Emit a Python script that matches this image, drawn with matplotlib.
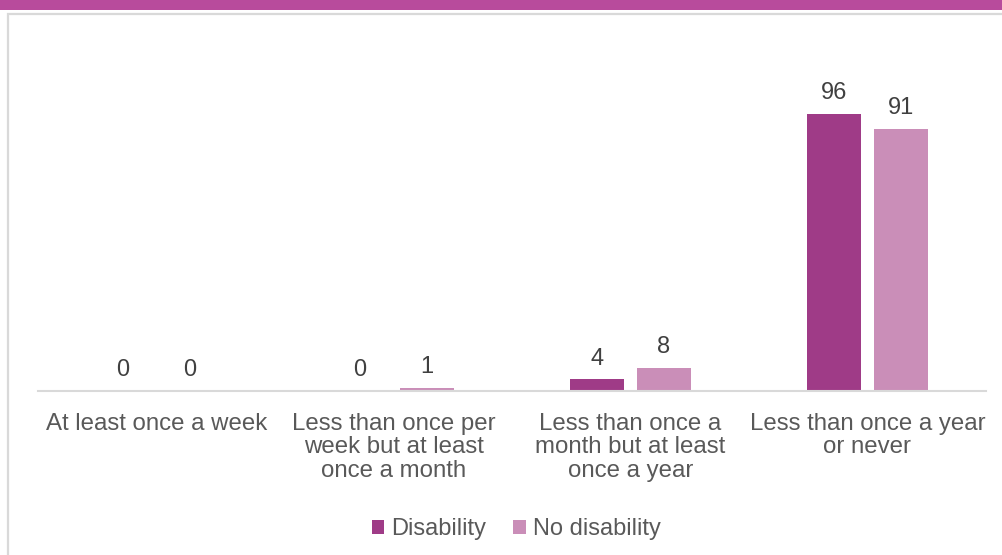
import matplotlib
matplotlib.use("Agg")
import matplotlib.pyplot as plt
import numpy as np
from matplotlib.patches import Rectangle

plt.rcParams['font.family'] = ['Liberation Sans', 'DejaVu Sans']

categories = [
    "At least once a week",
    "Less than once per\nweek but at least\nonce a month",
    "Less than once a\nmonth but at least\nonce a year",
    "Less than once a year\nor never",
]
disability = [0, 0, 4, 96]
no_disability = [0, 1, 8, 91]
series_names = ["Disability", "No disability"]

col_dis = "#9F3B87"
col_nodis = "#CA8EB8"
header_col = "#B84B9C"
label_col = "#404040"
tick_col = "#595959"
grid_col = "#D9D9D9"

fig = plt.figure(figsize=(10.03, 5.55), dpi=100)
W, H = 1003, 555

# header strip and chart frame
fig.patches.append(Rectangle((0, 1 - 10 / H), 1, 10 / H, transform=fig.transFigure,
                             facecolor=header_col, edgecolor='none'))
fig.patches.append(Rectangle((8.5 / W, -0.1), 1.1, 1 + 0.1 - 14.5 / H, transform=fig.transFigure,
                             facecolor='none', edgecolor=grid_col, linewidth=1.6))

ax = fig.add_axes([38 / W, 1 - 391 / H, 948 / W, 346 / H])
x = np.arange(len(categories))
bw = 0.228
off = 0.1415
b1 = ax.bar(x - off, disability, bw, color=col_dis, label=series_names[0])
b2 = ax.bar(x + off, no_disability, bw, color=col_nodis, label=series_names[1])

for bars, vals in ((b1, disability), (b2, no_disability)):
    for rect, v in zip(bars, vals):
        ax.annotate(f"{v}", (rect.get_x() + rect.get_width() / 2, v),
                    xytext=(0, 7), textcoords='offset points',
                    ha='center', va='bottom', fontsize=17, color=label_col)

ax.set_xlim(-0.5, 3.5)
ax.set_ylim(0, 120)
ax.set_yticks([])
ax.set_xticks(x)
ax.set_xticklabels(categories, fontsize=17.3, color=tick_col, linespacing=1.1)
ax.tick_params(axis='x', length=0, pad=15.5)
for s in ('top', 'right', 'left'):
    ax.spines[s].set_visible(False)
ax.spines['bottom'].set_color(grid_col)
ax.spines['bottom'].set_linewidth(1.5)

leg = fig.legend(handles=[b1, b2], labels=series_names, loc='center',
                 bbox_to_anchor=(516 / W, 1 - 529 / H), ncol=2, frameon=False,
                 fontsize=17, handlelength=0.55, handleheight=0.55,
                 handletextpad=0.3, columnspacing=1.1, labelcolor=tick_col)

fig.savefig("out.png", dpi=100)
